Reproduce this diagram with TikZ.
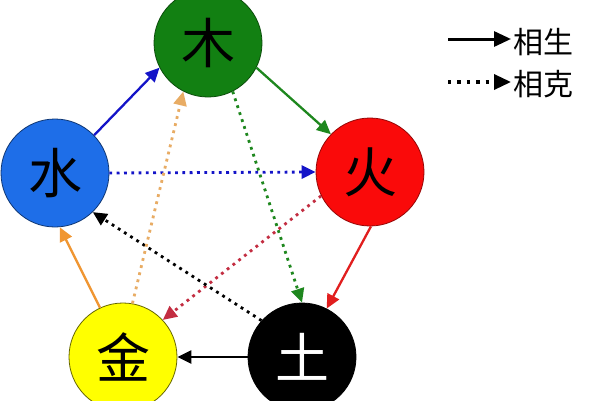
\documentclass[tikz,border=0pt]{standalone}
\usepackage{fontspec}
\newfontfamily\cjk{Noto Sans CJK SC}
\usetikzlibrary{arrows.meta}

\definecolor{mucol}{RGB}{18,128,18}
\definecolor{huocol}{RGB}{250,10,10}
\definecolor{jincol}{RGB}{255,255,0}
\definecolor{shuicol}{RGB}{30,110,232}
\definecolor{bluearr}{RGB}{20,20,200}
\definecolor{greenarr}{RGB}{30,135,30}
\definecolor{redarr}{RGB}{225,30,30}
\definecolor{redke}{RGB}{195,45,65}
\definecolor{orangearr}{RGB}{240,150,50}
\definecolor{orangeke}{RGB}{232,172,100}

\begin{document}
\begin{tikzpicture}[x=1pt,y=-1pt,
	elem/.style={draw,circle,minimum size=108pt,inner sep=0pt,line width=.8pt,font=\cjk\fontsize{54}{54}\selectfont},
	sheng/.style={line width=2.3pt,-{Triangle[length=14pt,width=13pt]}},
	ke/.style={line width=2.8pt,dash pattern=on 2.8pt off 4.5pt,-{Triangle[length=14pt,width=13pt]}},
	legend/.style={font=\cjk\fontsize{30}{30}\selectfont,inner sep=2pt}]
				\path[fill=white,use as bounding box] (0,0) rectangle (600,400);
				%five elements placed by hand
				\node[elem,fill=mucol,draw=mucol!60!black] (mu) at (208,43){木};
				\node[elem,fill=huocol,draw=huocol!60!black] (huo) at (370,172){火};
				\node[elem,fill=black,text=white] (tu) at (302,357){土};
				\node[elem,fill=jincol,draw=jincol!40!black] (jin) at (123,357){金};
				\node[elem,fill=shuicol,draw=shuicol!50!black] (shui) at (55,173){水};
				%% generating cycle
				\draw[sheng,bluearr] (shui.44)--(mu.207);
				\draw[sheng,greenarr] (mu.-27)--(huo.136);
				\draw[sheng,redarr] (huo.-89)--(tu.63);
				\draw[sheng,black] (tu.180)--(jin.0);
				\draw[sheng,orangearr] (jin.115)--(shui.-85);
				%% overcoming cycle
				\draw[ke,bluearr] (shui.0)--(huo.180);
				\draw[ke,greenarr] (mu.-63)--(tu.90);
				\draw[ke,redke] (huo.206)--(jin.43);
				\draw[ke,black] (tu.138)--(shui.-46);
				\draw[ke,orangeke] (jin.80)--(mu.-117);
				%% legend
				\coordinate (s1) at (448,39);\coordinate (k1) at (448,82);
				\node[legend,anchor=west] (lsheng) at (511,42){相生};
				\node[legend,anchor=west] (lke) at (511,84){相克};
				\draw[line width=3pt,-{Triangle[length=17pt,width=15pt]}] (s1)--(s1-|lsheng.west);
				\draw[line width=3.4pt,dash pattern=on 3.4pt off 6pt,-{Triangle[length=17pt,width=15pt]}] (k1)--(k1-|lke.west);
				\end{tikzpicture}
\end{document}
